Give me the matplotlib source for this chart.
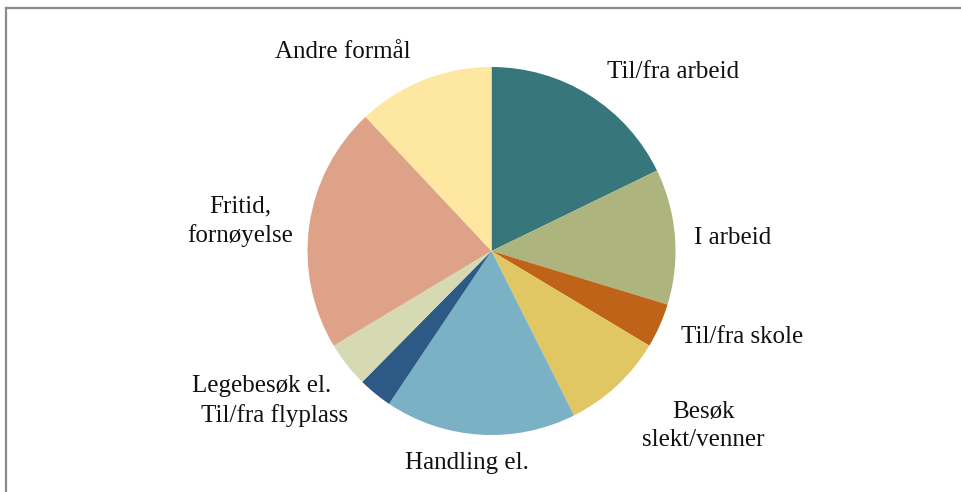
import matplotlib
matplotlib.use("Agg")
from matplotlib import pyplot as plt
from matplotlib.lines import Line2D

# reisehensikt, andel (%) lest av figuren, med klokka fra kl. 12
categories = ["Til/fra arbeid", "I arbeid", "Til/fra skole", "Besøk\nslekt/venner",
              "Handling el.", "Til/fra flyplass", "Legebesøk el.",
              "Fritid,\nfornøyelse", "Andre formål"]
shares = [17.8, 11.9, 3.9, 9.0, 16.8, 3.0, 4.0, 21.6, 12.0]
colors = ["#37767a", "#adb47e", "#be6317", "#e1c763", "#7ab1c4",
          "#2c5985", "#d5dab2", "#dda287", "#fee7a0"]

# label placement in pixel coords (x, y from top)
label_pos = [(673, 72), (733, 238), (742, 337), (703, 426), (467, 463),
             (275, 416), (262, 386), (240, 221), (343, 52)]

W, H = 961, 492
fig = plt.figure(figsize=(W / 100, H / 100), dpi=100)
ax = fig.add_axes([0, 0, 1, 1])

ax.pie(shares, colors=colors, startangle=90, counterclock=False,
       center=(491.5, H - 251), radius=184,
       wedgeprops=dict(linewidth=0))

for lab, (x, y) in zip(categories, label_pos):
    ax.text(x, H - y, lab, ha="center", va="center", fontsize=18,
            family="Liberation Serif", color="#111111", linespacing=1.35)

ax.set_aspect("auto")
ax.set_xlim(0, W)
ax.set_ylim(0, H)
ax.axis("off")

# grey frame (top and left edge visible)
ax.add_line(Line2D([5.5, W], [H - 7.5, H - 7.5], color="#8a8a8a", lw=1.6))
ax.add_line(Line2D([5.5, 5.5], [0, H - 7.5], color="#8a8a8a", lw=1.6))

plt.savefig("out.png", dpi=100)
